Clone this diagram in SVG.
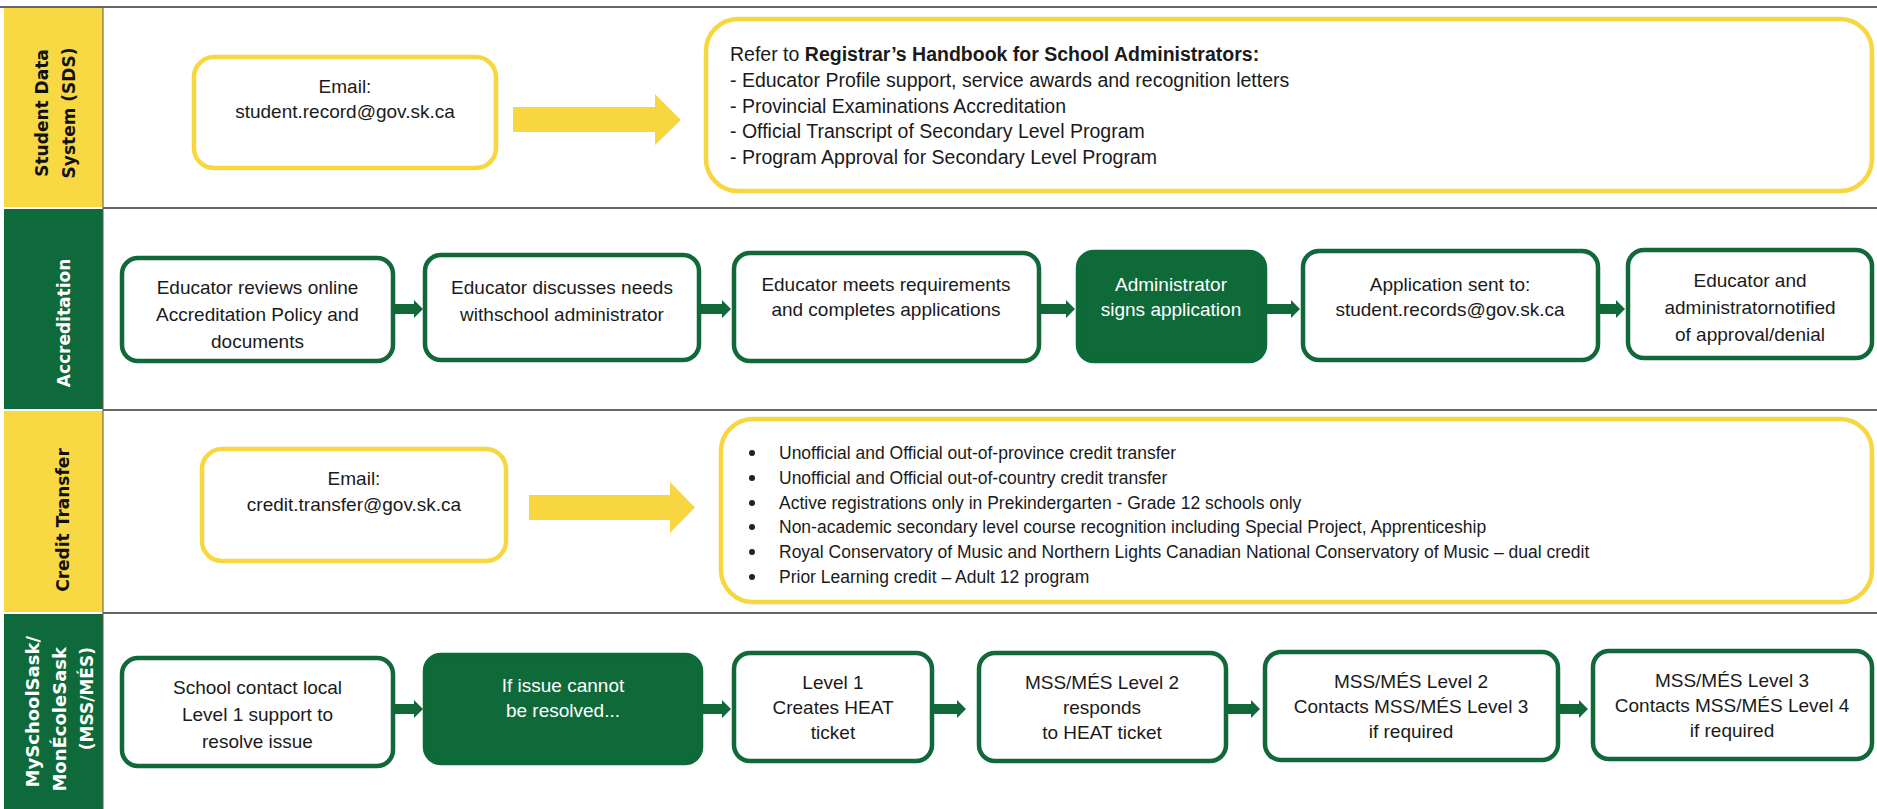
<svg xmlns="http://www.w3.org/2000/svg" width="1877" height="809" viewBox="0 0 1877 809">
<style>
.ybox{fill:#fff;stroke:#F8D640;stroke-width:4.5}
.gbox{fill:#fff;stroke:#11693A;stroke-width:4.5}
.gfill{fill:#0F6A3A;stroke:#0F6A3A;stroke-width:4.5}
.t{font-family:"Liberation Sans",Arial,sans-serif;font-size:19px;fill:#1a1a1a;text-anchor:middle}
.tw{fill:#fff}
.list{font-family:"Liberation Sans",Arial,sans-serif;font-size:17.5px;fill:#1a1a1a}
.slist{font-size:19.5px}
.lane{font-family:"DejaVu Sans",Verdana,sans-serif;font-weight:bold;font-size:17px;text-anchor:middle}
.sep{stroke:#666;stroke-width:2}
.yarrow{fill:#F8D640}
.garrow{fill:#11693A}
</style>
<rect width="1877" height="809" fill="#fff"/>
<g id="lanes">
<rect x="4" y="8" width="99" height="199" fill="#F9D943"/>
<rect x="4" y="209" width="99" height="200" fill="#0E6A3A"/>
<rect x="4" y="411" width="99" height="201" fill="#F9D943"/>
<rect x="4" y="614" width="99" height="195" fill="#0E6A3A"/>
<line class="sep" x1="0" y1="7" x2="1877" y2="7"/>
<line class="sep" x1="103" y1="208" x2="1877" y2="208"/>
<line class="sep" x1="103" y1="410" x2="1877" y2="410"/>
<line class="sep" x1="103" y1="613" x2="1877" y2="613"/>
<line x1="103" y1="7" x2="103" y2="809" stroke="#555" stroke-width="1"/>
<text class="lane" fill="#111" transform="translate(48,113) rotate(-90)">Student Data</text>
<text class="lane" fill="#111" transform="translate(75,113) rotate(-90)">System (SDS)</text>
<text class="lane" fill="#fff" transform="translate(70,323) rotate(-90)">Accreditation</text>
<text class="lane" fill="#111" transform="translate(69,520) rotate(-90)">Credit Transfer</text>
<text class="lane" fill="#fff" style="text-anchor:end;font-size:18px" transform="translate(39,636) rotate(-90)">MySchoolSask/</text>
<text class="lane" fill="#fff" style="text-anchor:end;font-size:18px" transform="translate(66,647) rotate(-90)">MonÉcoleSask</text>
<text class="lane" fill="#fff" style="text-anchor:end;font-size:17px" transform="translate(93,647) rotate(-90)">(MSS/MÉS)</text>
</g>
<g id="connectors">
<path class="yarrow" d="M513,107 H655 V94 L681,120 L655,145 V132 H513 Z"/>
<path class="yarrow" d="M529,495 H670 V482 L695,507.5 L670,533 V520 H529 Z"/>
<path class="garrow" d="M395,304 H414 V300 L423,309 L414,318 V314 H395 Z"/>
<path class="garrow" d="M701,304 H722 V300 L731,309 L722,318 V314 H701 Z"/>
<path class="garrow" d="M1041,304 H1066 V300 L1075,309 L1066,318 V314 H1041 Z"/>
<path class="garrow" d="M1267,304 H1291 V300 L1300,309 L1291,318 V314 H1267 Z"/>
<path class="garrow" d="M1600,304 H1616 V300 L1625,309 L1616,318 V314 H1600 Z"/>
<path class="garrow" d="M395,704 H414 V700 L423,709 L414,718 V714 H395 Z"/>
<path class="garrow" d="M703,704 H722 V700 L731,709 L722,718 V714 H703 Z"/>
<path class="garrow" d="M934,704 H957 V700 L966,709 L957,718 V714 H934 Z"/>
<path class="garrow" d="M1228,704 H1251 V700 L1260,709 L1251,718 V714 H1228 Z"/>
<path class="garrow" d="M1560,704 H1579 V700 L1588,709 L1579,718 V714 H1560 Z"/>
</g>
<g id="sds-email">
<rect class="ybox" x="194" y="57" width="302" height="111" rx="20"/>
<text class="t" x="345" y="93">Email:</text>
<text class="t" x="345" y="118">student.record@gov.sk.ca</text>
</g>
<g id="sds-info">
<rect class="ybox" x="706" y="19" width="1166" height="172" rx="32"/>
<text class="list" x="730" y="61" style="font-size:19.5px">Refer to <tspan font-weight="bold">Registrar’s Handbook for School Administrators:</tspan></text>
<text class="list slist" x="730" y="87">- Educator Profile support, service awards and recognition letters</text>
<text class="list slist" x="730" y="112.5">- Provincial Examinations Accreditation</text>
<text class="list slist" x="730" y="138">- Official Transcript of Secondary Level Program</text>
<text class="list slist" x="730" y="163.5">- Program Approval for Secondary Level Program</text>
</g>
<g id="acc-1">
<rect class="gbox" x="122" y="258" width="271" height="103" rx="16"/>
<text class="t" x="257.5" y="294">Educator reviews online</text>
<text class="t" x="257.5" y="321">Accreditation Policy and</text>
<text class="t" x="257.5" y="348">documents</text>
</g>
<g id="acc-2">
<rect class="gbox" x="425" y="255" width="274" height="105" rx="16"/>
<text class="t" x="562" y="294">Educator discusses needs</text>
<text class="t" x="562" y="321">withschool administrator</text>
</g>
<g id="acc-3">
<rect class="gbox" x="734" y="253" width="305" height="108" rx="16"/>
<text class="t" x="886" y="291">Educator meets requirements</text>
<text class="t" x="886" y="316">and completes applications</text>
</g>
<g id="acc-4">
<rect class="gfill" x="1078" y="252" width="187" height="109" rx="16"/>
<text class="t tw" x="1171" y="291">Administrator</text>
<text class="t tw" x="1171" y="316">signs application</text>
</g>
<g id="acc-5">
<rect class="gbox" x="1303" y="251" width="295" height="109" rx="16"/>
<text class="t" x="1450" y="291">Application sent to:</text>
<text class="t" x="1450" y="316">student.records@gov.sk.ca</text>
</g>
<g id="acc-6">
<rect class="gbox" x="1628" y="250" width="244" height="108" rx="16"/>
<text class="t" x="1750" y="287">Educator and</text>
<text class="t" x="1750" y="314">administratornotified</text>
<text class="t" x="1750" y="341">of approval/denial</text>
</g>
<g id="ct-email">
<rect class="ybox" x="202" y="449" width="304" height="112" rx="20"/>
<text class="t" x="354" y="485">Email:</text>
<text class="t" x="354" y="511">credit.transfer@gov.sk.ca</text>
</g>
<g id="ct-info">
<rect class="ybox" x="721" y="419" width="1151" height="183" rx="32"/>
<g fill="#222">
<circle cx="752" cy="453" r="3"/>
<circle cx="752" cy="478" r="3"/>
<circle cx="752" cy="503" r="3"/>
<circle cx="752" cy="527" r="3"/>
<circle cx="752" cy="552" r="3"/>
<circle cx="752" cy="577" r="3"/>
</g>
<text class="list" x="779" y="459">Unofficial and Official out-of-province credit transfer</text>
<text class="list" x="779" y="484">Unofficial and Official out-of-country credit transfer</text>
<text class="list" x="779" y="509">Active registrations only in Prekindergarten - Grade 12 schools only</text>
<text class="list" x="779" y="533">Non-academic secondary level course recognition including Special Project, Apprenticeship</text>
<text class="list" x="779" y="558">Royal Conservatory of Music and Northern Lights Canadian National Conservatory of Music – dual credit</text>
<text class="list" x="779" y="583">Prior Learning credit – Adult 12 program</text>
</g>
<g id="mss-1">
<rect class="gbox" x="122" y="658" width="271" height="108" rx="16"/>
<text class="t" x="257.5" y="694">School contact local</text>
<text class="t" x="257.5" y="721">Level 1 support to</text>
<text class="t" x="257.5" y="748">resolve issue</text>
</g>
<g id="mss-2">
<rect class="gfill" x="425" y="655" width="276" height="108" rx="16"/>
<text class="t tw" x="563" y="692">If issue cannot</text>
<text class="t tw" x="563" y="717">be resolved...</text>
</g>
<g id="mss-3">
<rect class="gbox" x="734" y="653" width="198" height="108" rx="16"/>
<text class="t" x="833" y="689">Level 1</text>
<text class="t" x="833" y="714">Creates HEAT</text>
<text class="t" x="833" y="739">ticket</text>
</g>
<g id="mss-4">
<rect class="gbox" x="979" y="653" width="247" height="108" rx="16"/>
<text class="t" x="1102" y="689">MSS/MÉS Level 2</text>
<text class="t" x="1102" y="714">responds</text>
<text class="t" x="1102" y="739">to HEAT ticket</text>
</g>
<g id="mss-5">
<rect class="gbox" x="1265" y="652" width="293" height="108" rx="16"/>
<text class="t" x="1411" y="688">MSS/MÉS Level 2</text>
<text class="t" x="1411" y="713">Contacts MSS/MÉS Level 3</text>
<text class="t" x="1411" y="738">if required</text>
</g>
<g id="mss-6">
<rect class="gbox" x="1593" y="651" width="279" height="108" rx="16"/>
<text class="t" x="1732" y="687">MSS/MÉS Level 3</text>
<text class="t" x="1732" y="712">Contacts MSS/MÉS Level 4</text>
<text class="t" x="1732" y="737">if required</text>
</g>
</svg>
